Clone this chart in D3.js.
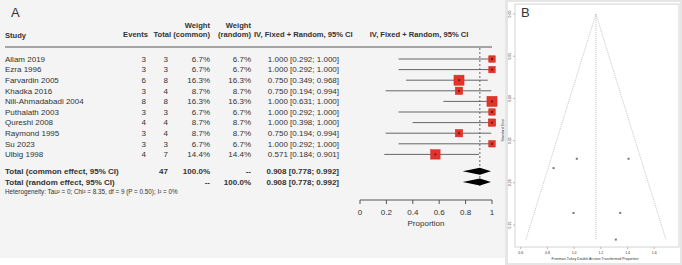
<!DOCTYPE html>
<html lang="en">
<head>
<meta charset="UTF-8">
<title>Forest and funnel plot</title>
<style>
    body { margin: 0; background: #fff; }
    svg { display: block; }
    text { font-family: "Liberation Sans", Arial, sans-serif; fill: #333; }
    .hdr { font-weight: bold; }
</style>
</head>
<body>
<svg width="682" height="265"></svg>
<script src="https://cdn.jsdelivr.net/npm/d3@7"></script>
<script>
// forest plot data (panel A)
const studies = ["Allam 2019", "Ezra 1996", "Farvardin 2005", "Khadka 2016", "Nili-Ahmadabadi 2004",
    "Puthalath 2003", "Qureshi 2008", "Raymond 1995", "Su 2023", "Ulbig 1998"];
const events = [3, 3, 6, 3, 8, 3, 4, 3, 3, 4];
const totals = [3, 3, 8, 4, 8, 3, 4, 4, 3, 7];
const weightCommon = [6.7, 6.7, 16.3, 8.7, 16.3, 6.7, 8.7, 8.7, 6.7, 14.4];
const weightRandom = [6.7, 6.7, 16.3, 8.7, 16.3, 6.7, 8.7, 8.7, 6.7, 14.4];
const estimate = [1.000, 1.000, 0.750, 0.750, 1.000, 1.000, 1.000, 0.750, 1.000, 0.571];
const lower = [0.292, 0.292, 0.349, 0.194, 0.631, 0.292, 0.398, 0.194, 0.292, 0.184];
const upper = [1.000, 1.000, 0.968, 0.994, 1.000, 1.000, 1.000, 0.994, 1.000, 0.901];
const pooled = [0.908, 0.778, 0.992];   // estimate, lower, upper
const totalN = 47;
const axisTicks = [0, 0.2, 0.4, 0.6, 0.8, 1];
const heterogeneity = "Heterogeneity: Tau\u00b2 = 0; Chi\u00b2 = 8.35, df = 9 (P = 0.50); I\u00b2 = 0%";

// funnel plot data (panel B)
const funnelX = [1.020, 1.407, 0.846, 0.995, 1.345, 1.312];
const funnelSE = [0.1715, 0.1715, 0.1826, 0.2357, 0.2357, 0.2673];
const funnelCenter = 1.163;
const funnelXTicks = [0.6, 0.8, 1.0, 1.2, 1.4, 1.6];
const funnelYTicks = [0, 0.05, 0.10, 0.15, 0.20, 0.25];

const svg = d3.select("svg");
const fmt3 = d3.format(".3f");

// ---------- panel A ----------
svg.append("rect").attr("x", 0).attr("y", 0).attr("width", 506).attr("height", 258).attr("fill", "#f4f4f4");
svg.append("text").attr("x", 11).attr("y", 17).attr("font-size", 13).text("A");

const x = d3.scaleLinear().domain([0, 1]).range([360, 492]);
const rowY = d3.scaleLinear().domain([0, 9]).range([59, 154.4]);
const yCommon = rowY(10.6), yRandom = rowY(11.6);

const g = svg.append("g").attr("font-size", 8);
const col = { events: 146, total: 168, wc: 210, wr: 251, ci: 339 };

// header
const h = g.append("g").attr("class", "hdr").attr("font-size", 7.6);
h.append("text").attr("x", 5).attr("y", 38).text("Study");
h.append("text").attr("x", col.events + 2).attr("y", 37).attr("text-anchor", "end").text("Events");
h.append("text").attr("x", col.total + 3).attr("y", 37).attr("text-anchor", "end").text("Total");
h.append("text").attr("x", col.wc).attr("y", 28).attr("text-anchor", "end").text("Weight");
h.append("text").attr("x", col.wc).attr("y", 37).attr("text-anchor", "end").text("(common)");
h.append("text").attr("x", col.wr).attr("y", 28).attr("text-anchor", "end").text("Weight");
h.append("text").attr("x", col.wr).attr("y", 37).attr("text-anchor", "end").text("(random)");
h.append("text").attr("x", 254).attr("y", 37).text("IV, Fixed + Random, 95% CI");
h.append("text").attr("x", 419).attr("y", 37).attr("text-anchor", "middle").text("IV, Fixed + Random, 95% CI");
g.append("line").attr("x1", 5).attr("x2", 492).attr("y1", 47).attr("y2", 47)
    .attr("stroke", "#8a8a8a").attr("stroke-width", 1.5);

// dashed line at pooled estimate
g.append("line").attr("x1", x(pooled[0])).attr("x2", x(pooled[0]))
    .attr("y1", 48).attr("y2", yRandom + 5)
    .attr("stroke", "#444").attr("stroke-dasharray", "2,2").attr("stroke-width", 0.8);

// study rows
const rows = g.selectAll("g.row").data(studies).join("g").attr("class", "row")
    .attr("transform", (d, i) => `translate(0,${rowY(i)})`);
rows.append("text").attr("x", 5).attr("dy", "0.35em").text(d => d);
rows.append("text").attr("x", col.events).attr("dy", "0.35em").attr("text-anchor", "end").text((d, i) => events[i]);
rows.append("text").attr("x", col.total).attr("dy", "0.35em").attr("text-anchor", "end").text((d, i) => totals[i]);
rows.append("text").attr("x", col.wc).attr("dy", "0.35em").attr("text-anchor", "end").text((d, i) => weightCommon[i].toFixed(1) + "%");
rows.append("text").attr("x", col.wr).attr("dy", "0.35em").attr("text-anchor", "end").text((d, i) => weightRandom[i].toFixed(1) + "%");
rows.append("text").attr("x", col.ci).attr("dy", "0.35em").attr("text-anchor", "end")
    .text((d, i) => `${fmt3(estimate[i])} [${fmt3(lower[i])}; ${fmt3(upper[i])}]`);
rows.append("line").attr("x1", (d, i) => x(lower[i])).attr("x2", (d, i) => x(upper[i]))
    .attr("stroke", "#666").attr("stroke-width", 1);
rows.append("rect")
    .attr("x", (d, i) => x(estimate[i]) - 1.25 * Math.sqrt(weightCommon[i]))
    .attr("y", (d, i) => -1.25 * Math.sqrt(weightCommon[i]))
    .attr("width", (d, i) => 2.5 * Math.sqrt(weightCommon[i]))
    .attr("height", (d, i) => 2.5 * Math.sqrt(weightCommon[i]))
    .attr("fill", "#e3342b").attr("stroke", "#d02a22").attr("stroke-width", 0.5);
rows.append("rect").attr("x", (d, i) => x(estimate[i]) - 1).attr("y", -1)
    .attr("width", 2).attr("height", 2).attr("fill", "#7a1a14");

// totals
const tot = g.append("g").attr("class", "hdr");
tot.append("text").attr("x", 5).attr("y", yCommon).attr("dy", "0.35em").text("Total (common effect, 95% CI)");
tot.append("text").attr("x", col.total).attr("y", yCommon).attr("dy", "0.35em").attr("text-anchor", "end").text(totalN);
tot.append("text").attr("x", col.wc).attr("y", yCommon).attr("dy", "0.35em").attr("text-anchor", "end").text("100.0%");
tot.append("text").attr("x", col.wr).attr("y", yCommon).attr("dy", "0.35em").attr("text-anchor", "end").text("--");
tot.append("text").attr("x", 5).attr("y", yRandom).attr("dy", "0.35em").text("Total (random effect, 95% CI)");
tot.append("text").attr("x", col.wc).attr("y", yRandom).attr("dy", "0.35em").attr("text-anchor", "end").text("--");
tot.append("text").attr("x", col.wr).attr("y", yRandom).attr("dy", "0.35em").attr("text-anchor", "end").text("100.0%");
[yCommon, yRandom].forEach(yy => {
    tot.append("text").attr("x", col.ci).attr("y", yy).attr("dy", "0.35em").attr("text-anchor", "end")
        .text(`${fmt3(pooled[0])} [${fmt3(pooled[1])}; ${fmt3(pooled[2])}]`);
    g.append("path")
        .attr("d", `M${x(pooled[1])},${yy} L${x(pooled[0])},${yy - 3.5} L${x(pooled[2])},${yy} L${x(pooled[0])},${yy + 3.5} Z`)
        .attr("fill", "#000");
});
g.append("text").attr("x", 5).attr("y", rowY(12.55)).attr("dy", "0.35em").attr("font-size", 6.3).text(heterogeneity);

// x axis
const ax = g.append("g").attr("transform", "translate(0,200)");
ax.append("line").attr("x1", x(0)).attr("x2", x(1)).attr("stroke", "#555");
ax.selectAll("line.tk").data(axisTicks).join("line").attr("class", "tk")
    .attr("x1", d => x(d)).attr("x2", d => x(d)).attr("y1", 0).attr("y2", 4).attr("stroke", "#555");
ax.selectAll("text").data(axisTicks).join("text")
    .attr("x", d => x(d)).attr("y", 15).attr("text-anchor", "middle").text(d => d);
ax.append("text").attr("x", (x(0) + x(1)) / 2).attr("y", 26).attr("text-anchor", "middle").text("Proportion");

// ---------- panel B ----------
const bx = d3.scaleLinear().domain([0.6, 1.6]).range([520.7, 654.3]);
const by = d3.scaleLinear().domain([0, 0.25]).range([14, 225]);
svg.append("rect").attr("x", 506).attr("y", 0).attr("width", 176).attr("height", 265).attr("fill", "#fff");
svg.append("rect").attr("x", 506.5).attr("y", 0.5).attr("width", 175).attr("height", 264)
    .attr("fill", "none").attr("stroke", "#e6e6e6").attr("stroke-width", 3);
svg.append("rect").attr("x", 515).attr("y", 4).attr("width", 164).attr("height", 243)
    .attr("fill", "none").attr("stroke", "#d4d4d4").attr("stroke-width", 1);
svg.append("text").attr("x", 521).attr("y", 17).attr("font-size", 13).attr("fill", "#111").text("B");

const seMax = d3.max(funnelSE);
const fb = svg.append("g");
fb.append("path")
    .attr("d", `M${bx(funnelCenter - 1.96 * seMax)},${by(seMax)} L${bx(funnelCenter)},${by(0)} L${bx(funnelCenter + 1.96 * seMax)},${by(seMax)}`)
    .attr("fill", "none").attr("stroke", "#aaa").attr("stroke-width", 0.7).attr("stroke-dasharray", "1,1");
fb.append("line").attr("x1", bx(funnelCenter)).attr("x2", bx(funnelCenter))
    .attr("y1", by(0)).attr("y2", by(seMax))
    .attr("stroke", "#aaa").attr("stroke-width", 0.7).attr("stroke-dasharray", "1,1");
fb.selectAll("rect.pt").data(funnelX).join("rect").attr("class", "pt")
    .attr("x", d => bx(d) - 1).attr("y", (d, i) => by(funnelSE[i]) - 1)
    .attr("width", 2).attr("height", 2).attr("fill", "#777");

// funnel axes
const bxa = fb.append("g").attr("transform", "translate(0,247)");
bxa.selectAll("line").data(funnelXTicks).join("line")
    .attr("x1", d => bx(d)).attr("x2", d => bx(d)).attr("y1", 0).attr("y2", 2).attr("stroke", "#bbb");
bxa.selectAll("text").data(funnelXTicks).join("text")
    .attr("x", d => bx(d)).attr("y", 7).attr("text-anchor", "middle").attr("font-size", 3.5).attr("fill", "#888")
    .text(d => d.toFixed(1));
bxa.append("text").attr("x", 595).attr("y", 13).attr("text-anchor", "middle").attr("font-size", 3.5).attr("fill", "#888")
    .text("Freeman-Tukey Double Arcsine Transformed Proportion");
const bya = fb.append("g").attr("transform", "translate(515,0)");
bya.selectAll("line").data(funnelYTicks).join("line")
    .attr("y1", d => by(d)).attr("y2", d => by(d)).attr("x1", 0).attr("x2", -2).attr("stroke", "#bbb");
bya.selectAll("text").data(funnelYTicks).join("text")
    .attr("transform", d => `translate(-4,${by(d)}) rotate(-90)`)
    .attr("text-anchor", "middle").attr("font-size", 3.5).attr("fill", "#888")
    .text(d => d.toFixed(2));
bya.append("text").attr("transform", "translate(-11,130) rotate(-90)")
    .attr("text-anchor", "middle").attr("font-size", 3.5).attr("fill", "#888").text("Standard Error");
</script>
</body>
</html>
